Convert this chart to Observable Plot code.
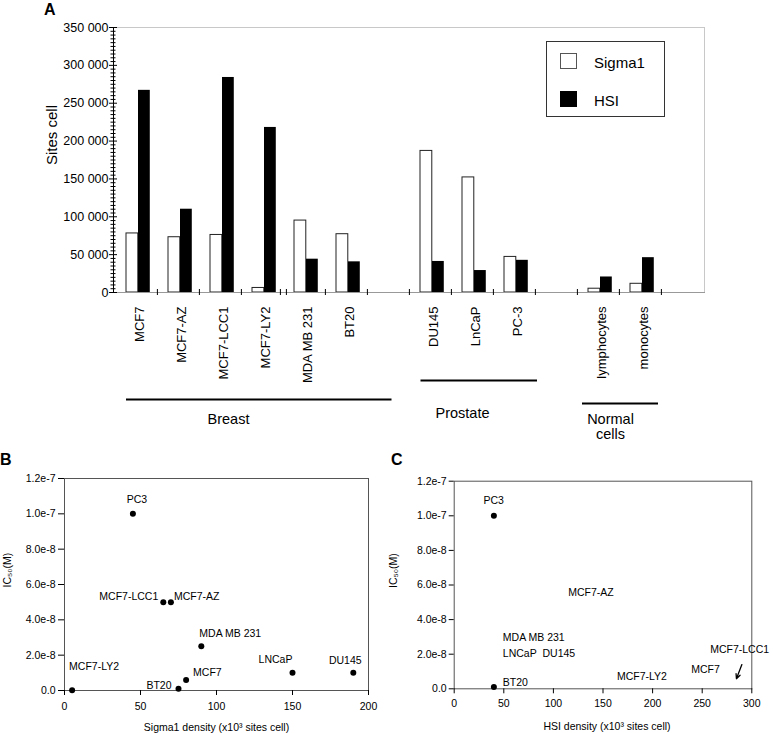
<!DOCTYPE html>
<html><head><meta charset="utf-8">
<script src="https://cdn.jsdelivr.net/npm/d3@7"></script>
<script src="https://cdn.jsdelivr.net/npm/@observablehq/plot@0.6"></script>
<style>
html,body{margin:0;padding:0;background:#fff;overflow:hidden;}
#fig{position:relative;width:773px;height:733px;font-family:"Liberation Sans",Arial,Helvetica,sans-serif;color:#000;}
#fig svg{position:absolute;}
.letter{position:absolute;font-weight:bold;font-size:16px;line-height:16px;}
.legend{position:absolute;left:546px;top:41px;width:117px;height:74px;border:1.5px solid #333;background:#fff;}
.sw{position:absolute;width:15px;height:14px;}
.lt{position:absolute;font-size:15px;line-height:15px;white-space:nowrap;}
</style></head>
<body><div id="fig"></div>
<script>
// ---------- Panel A data ----------
const cellLines = ["MCF7","MCF7-AZ","MCF7-LCC1","MCF7-LY2","MDA MB 231","BT20","DU145","LnCaP","PC-3","lymphocytes","monocytes"];
const sigma1Sites = [78000,73000,76000,6000,95000,77000,187000,152000,47000,5000,11500];
const hsiSites = [267000,110000,284000,218000,44000,40500,41000,29000,42500,20500,46000];
const seriesNames = ["Sigma1","HSI"];
const slotOrder = ["MCF7","MCF7-AZ","MCF7-LCC1","MCF7-LY2","MDA MB 231","BT20","gap1","DU145","LnCaP","PC-3","gap2","lymphocytes","monocytes","gap3"];
const yTicksA = [0,50000,100000,150000,200000,250000,300000,350000];
const yTickLabelsA = ["0","50 000","100 000","150 000","200 000","250 000","300 000","350 000"];
const groupNames = ["Breast","Prostate","Normal\ncells"];
const groupFirst = ["MCF7","DU145","lymphocytes"];
const groupLast = ["BT20","PC-3","monocytes"];

// ---------- Panel B data ----------
const bLines = ["PC3","MCF7-LCC1","MCF7-AZ","MDA MB 231","MCF7","BT20","MCF7-LY2","LNCaP","DU145"];
const bSigma1 = [45,65,70,90,80,75,5,150,190];
const bIC50 = [1.0e-7,5.0e-8,5.0e-8,2.5e-8,6e-9,1e-9,2e-10,1e-8,1e-8];
const sigmaTicks = [0,50,100,150,200];

// ---------- Panel C data ----------
const cPointLines = ["PC3","BT20"];
const cPointHSI = [40,40];
const cPointIC50 = [1.0e-7,1e-9];
const cLabelLines = ["PC3","MCF7-AZ","MDA MB 231","LNCaP","DU145","MCF7-LY2","MCF7","MCF7-LCC1","BT20"];
const cLabelHSI = [29.5,115,49,49,89,164,239,258,49];
const cLabelIC50 = [1.085e-7,5.58e-8,2.98e-8,2.05e-8,2.05e-8,7.1e-9,1.1e-8,2.25e-8,3.5e-9];
const cArrowHSI = [290,284.5];
const cArrowIC50 = [1.4e-8,5.8e-9];
const hsiTicks = [0,50,100,150,200,250,300];

const icTicks = [0,2e-8,4e-8,6e-8,8e-8,1e-7,1.2e-7];
const icTickLabels = ["0.0","2.0e-8","4.0e-8","6.0e-8","8.0e-8","1.0e-7","1.2e-7"];

// ---------- layout ----------
const FONT = '"Liberation Sans", Arial, Helvetica, sans-serif';
const fig = document.getElementById("fig");

// ===== Panel A =====
const A = {width: 773, height: 440, ml: 113, mr: 69, mt: 27, mb: 148};
const pw = A.width - A.ml - A.mr;
const bw = pw / slotOrder.length;
const sigmaRows = cellLines.map((c, i) => ({cell: c, value: sigma1Sites[i]}));
const hsiRows = cellLines.map((c, i) => ({cell: c, value: hsiSites[i]}));
const minorTicks = d3.range(0, 350001, 5000).filter(v => !yTicksA.includes(v));
const boundaries = slotOrder.slice(1).filter(s => s !== "MDA MB 231");
const groups = groupNames.map((g, i) => ({name: g, first: groupFirst[i], last: groupLast[i]}));
const groupStyle = [
  {insetLeft: 11, insetRight: -24.5, dyLine: 107, textAt: "MCF7-LCC1", dxText: 8, dyText: 127, lineAnchor: "middle"},
  {insetLeft: 11.5, insetRight: -2, dyLine: 88, textAt: "LnCaP", dxText: -10, dyText: 121, lineAnchor: "middle"},
  {insetLeft: 5, insetRight: 3, dyLine: 111, textAt: "lymphocytes", dxText: 12, dyText: 121, lineAnchor: "top"}
];

const plotA = Plot.plot({
  width: A.width, height: A.height,
  marginLeft: A.ml, marginRight: A.mr, marginTop: A.mt, marginBottom: A.mb,
  style: {fontFamily: FONT, fontSize: "12.5px", background: "transparent", overflow: "visible", color: "#000"},
  x: {type: "band", domain: slotOrder, padding: 0, axis: null},
  y: {domain: [0, 350000], axis: null},
  marks: [
    Plot.frame({stroke: "#c8c8c8"}),
    Plot.barY(sigmaRows, {x: "cell", y: "value", fill: "white", stroke: "#222", strokeWidth: 1, insetLeft: 11, insetRight: bw - 23}),
    Plot.barY(hsiRows, {x: "cell", y: "value", fill: "black", insetLeft: 23, insetRight: bw - 35}),
    Plot.frame({anchor: "bottom", stroke: "#999"}),
    Plot.frame({anchor: "left", stroke: "#000"}),
    // y ticks crossing the axis
    Plot.ruleY(minorTicks, {y: d => d, insetLeft: -2.5, insetRight: pw - 2.5, stroke: "#000"}),
    Plot.ruleY(yTicksA, {y: d => d, insetLeft: -4, insetRight: pw - 4, stroke: "#000"}),
    Plot.axisY({ticks: yTicksA, tickSize: 0, tickPadding: 5, tickFormat: d => yTickLabelsA[yTicksA.indexOf(d)], label: null, fontSize: 12.5}),
    Plot.text(["Sites cell"], {frameAnchor: "left", rotate: -90, dx: -61, dy: 5, fontSize: 15}),
    // x ticks at slot boundaries (double tick for the axis break)
    Plot.ruleX(boundaries, {x: d => d, y1: 0, y2: 0, insetTop: -3, insetBottom: -3, dx: -bw / 2, stroke: "#000"}),
    Plot.ruleX(["MDA MB 231"], {x: d => d, y1: 0, y2: 0, insetTop: -3, insetBottom: -3, dx: -bw / 2 - 3, stroke: "#000"}),
    Plot.ruleX(["MDA MB 231"], {x: d => d, y1: 0, y2: 0, insetTop: -3, insetBottom: -3, dx: -bw / 2 + 3, stroke: "#000"}),
    Plot.axisX({tickSize: 0, tickPadding: 14, tickRotate: -90, dx: 3, fontSize: 13, label: null,
      tickFormat: d => d.startsWith("gap") ? "" : d}),
    // group brackets
    ...groups.map((g, i) => Plot.ruleY([g], {x1: "first", x2: "last", y: () => 0, dy: groupStyle[i].dyLine,
      insetLeft: groupStyle[i].insetLeft, insetRight: groupStyle[i].insetRight, strokeWidth: 2.2, stroke: "#000"})),
    ...groups.map((g, i) => Plot.text([g], {x: () => groupStyle[i].textAt, y: () => 0, text: "name",
      dx: groupStyle[i].dxText, dy: groupStyle[i].dyText, lineAnchor: groupStyle[i].lineAnchor, lineHeight: 1.03, fontSize: 14.5}))
  ]
});
plotA.style.left = "0px"; plotA.style.top = "0px";
fig.appendChild(plotA);

// Legend
const legend = document.createElement("div");
legend.className = "legend";
fig.appendChild(legend);
const swatchStyles = [{bg: "#fff", border: "1.5px solid #555", top: 53}, {bg: "#000", border: "1.5px solid #000", top: 91}];
seriesNames.forEach((name, i) => {
  const sw = document.createElement("div");
  sw.className = "sw";
  sw.style.left = "560px"; sw.style.top = swatchStyles[i].top + "px";
  sw.style.background = swatchStyles[i].bg; sw.style.border = swatchStyles[i].border;
  fig.appendChild(sw);
  const t = document.createElement("div");
  t.className = "lt"; t.textContent = name;
  t.style.left = "594px"; t.style.top = (swatchStyles[i].top + 1.5) + "px";
  fig.appendChild(t);
});

// Panel letters
[["A", 44, 1.5], ["B", 0, 451.5], ["C", 391, 451.5]].forEach(([s, l, t]) => {
  const d = document.createElement("div");
  d.className = "letter"; d.textContent = s;
  d.style.left = l + "px"; d.style.top = t + "px";
  fig.appendChild(d);
});

// ===== Panel B =====
const bLabelStyle = {
  "PC3": {textAnchor: "middle", dx: 4, dy: -14},
  "MCF7-LCC1": {textAnchor: "end", dx: -5, dy: -6},
  "MCF7-AZ": {textAnchor: "start", dx: 3, dy: -6},
  "MDA MB 231": {textAnchor: "start", dx: -2, dy: -13},
  "MCF7": {textAnchor: "start", dx: 7, dy: -7},
  "BT20": {textAnchor: "end", dx: -7, dy: -3},
  "MCF7-LY2": {textAnchor: "start", dx: -3, dy: -24},
  "LNCaP": {textAnchor: "middle", dx: -17, dy: -13},
  "DU145": {textAnchor: "middle", dx: -8, dy: -12}
};
const bRows = bLines.map((n, i) => ({name: n, x: bSigma1[i], y: bIC50[i]}));
const icFormat = d => icTickLabels[icTicks.findIndex(t => Math.abs(t - d) < 1e-12)];

const plotB = Plot.plot({
  width: 386, height: 293,
  marginLeft: 64, marginRight: 18, marginTop: 38, marginBottom: 43,
  style: {fontFamily: FONT, fontSize: "10.5px", background: "transparent", overflow: "visible", color: "#000"},
  x: {domain: [0, 200], axis: null},
  y: {domain: [0, 1.2e-7], axis: null},
  marks: [
    Plot.frame({stroke: "#555"}),
    Plot.axisX({ticks: sigmaTicks, tickSize: 5, tickPadding: 7, label: null, fontSize: 10.5}),
    Plot.axisY({ticks: icTicks, tickSize: 6, tickPadding: 3, tickFormat: icFormat, label: null, fontSize: 10.5}),
    Plot.dot(bRows, {x: "x", y: "y", r: 3, fill: "#000", stroke: "none"}),
    ...bRows.map(r => Plot.text([r], {x: "x", y: "y", text: "name", fontSize: 10.5, ...bLabelStyle[r.name]})),
    Plot.text(["Sigma1 density (x10³ sites cell)"], {frameAnchor: "bottom", lineAnchor: "bottom", dy: 40, fontSize: 10.5}),
    Plot.text(["IC₅₀(M)"], {frameAnchor: "left", rotate: -90, dx: -56.5, dy: 3, fontSize: 10.5})
  ]
});
plotB.style.left = "0px"; plotB.style.top = "440px";
fig.appendChild(plotB);

// ===== Panel C =====
const cPoints = cPointLines.map((n, i) => ({name: n, x: cPointHSI[i], y: cPointIC50[i]}));
const cLabels = cLabelLines.map((n, i) => ({name: n, x: cLabelHSI[i], y: cLabelIC50[i]}));
const cArrow = [{x1: cArrowHSI[0], y1: cArrowIC50[0], x2: cArrowHSI[1], y2: cArrowIC50[1]}];

const plotC = Plot.plot({
  width: 390, height: 293,
  marginLeft: 70.7, marginRight: 21.7, marginTop: 40.7, marginBottom: 44.7,
  style: {fontFamily: FONT, fontSize: "10.5px", background: "transparent", overflow: "visible", color: "#000"},
  x: {domain: [0, 300], axis: null},
  y: {domain: [0, 1.2e-7], axis: null},
  marks: [
    Plot.frame({stroke: "#555"}),
    Plot.axisX({ticks: hsiTicks, tickSize: 5, tickPadding: 6, label: null, fontSize: 10.5}),
    Plot.axisY({ticks: icTicks, tickSize: 5, tickPadding: 2.5, tickFormat: icFormat, label: null, fontSize: 10.5}),
    Plot.dot(cPoints, {x: "x", y: "y", r: 3, fill: "#000", stroke: "none"}),
    Plot.text(cLabels, {x: "x", y: "y", text: "name", textAnchor: "start", fontSize: 10.5}),
    Plot.arrow(cArrow, {x1: "x1", y1: "y1", x2: "x2", y2: "y2", stroke: "#000", strokeWidth: 1.3, headLength: 7, headAngle: 50}),
    Plot.text(["HSI density (x10³ sites cell)"], {frameAnchor: "bottom", lineAnchor: "bottom", dx: 4, dy: 41.5, fontSize: 10.5}),
    Plot.text(["IC₅₀(M)"], {frameAnchor: "left", rotate: -90, dx: -61, dy: 3, fontSize: 10.5})
  ]
});
plotC.style.left = "383px"; plotC.style.top = "440px";
fig.appendChild(plotC);
</script>
</body></html>
